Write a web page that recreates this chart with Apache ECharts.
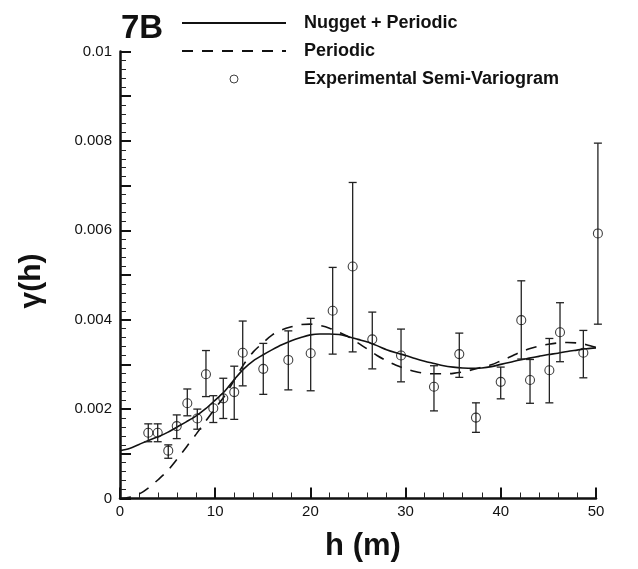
<!DOCTYPE html>
<html>
<head>
<meta charset="utf-8">
<title>Semi-variogram 7B</title>
<script src="https://cdn.jsdelivr.net/npm/echarts@6/dist/echarts.min.js"></script>
<style>
  html, body { margin: 0; padding: 0; background: #fff; }
  #chart { width: 638px; height: 569px; }
</style>
</head>
<body>
<div id="chart"></div>
<script>
// Lag distances h (m) of the experimental semi-variogram
const lags = [2.97, 3.96, 5.07, 5.96, 7.07, 8.12, 9.03, 9.8, 10.85, 12.0, 12.89, 15.05, 17.68, 20.03,
  22.34, 24.44, 26.5, 29.52, 32.98, 35.64, 37.39, 39.99, 42.15, 43.07, 45.1, 46.22, 48.67, 50.2];
// Experimental gamma(h)
const gammaExp = [0.00147, 0.00147, 0.00107, 0.00162, 0.00213, 0.00179, 0.00278, 0.00202, 0.00224, 0.00238,
  0.00326, 0.0029, 0.0031, 0.00325, 0.0042, 0.00519, 0.00356, 0.0032, 0.0025, 0.00323, 0.00181, 0.00261,
  0.00399, 0.00265, 0.00287, 0.00372, 0.00326, 0.00593];
// Error bar bounds
const gammaLow = [0.00127, 0.00127, 0.0009, 0.00134, 0.00185, 0.00155, 0.00228, 0.0017, 0.00179, 0.00177,
  0.00252, 0.00233, 0.00243, 0.00241, 0.00323, 0.00328, 0.0029, 0.00261, 0.00196, 0.00271, 0.00148, 0.00223,
  0.00312, 0.00213, 0.00214, 0.00306, 0.0027, 0.0039];
const gammaHigh = [0.00167, 0.00167, 0.0012, 0.00187, 0.00245, 0.002, 0.00331, 0.0023, 0.00269, 0.00296,
  0.00397, 0.00347, 0.00375, 0.00403, 0.00517, 0.00707, 0.00417, 0.00379, 0.00297, 0.0037, 0.00214, 0.00294,
  0.00487, 0.00311, 0.00358, 0.00438, 0.00376, 0.00795];

// Model curves sampled every metre
const modelH = [0, 1, 2, 3, 4, 5, 6, 7, 8, 9, 10, 11, 12, 13, 14, 15, 16, 17, 18, 19, 20, 21, 22, 23, 24, 25,
  26, 27, 28, 29, 30, 31, 32, 33, 34, 35, 36, 37, 38, 39, 40, 41, 42, 43, 44, 45, 46, 47, 48, 49, 50];
const nuggetPeriodic = [0.00107, 0.00112, 0.00121, 0.0013, 0.00138, 0.00148, 0.0016, 0.00172, 0.00185, 0.00201,
  0.0022, 0.0024, 0.00266, 0.0029, 0.00308, 0.00321, 0.00333, 0.00344, 0.00353, 0.0036, 0.00366, 0.00368,
  0.00368, 0.00367, 0.00362, 0.00356, 0.0035, 0.00342, 0.00333, 0.00326, 0.0032, 0.00313, 0.00307, 0.00302,
  0.00297, 0.00294, 0.00292, 0.00291, 0.00292, 0.00295, 0.003, 0.00305, 0.0031, 0.00314, 0.00318, 0.00322,
  0.00325, 0.00329, 0.00332, 0.00335, 0.00337];
const periodic = [0, 0.00003, 0.0001, 0.00024, 0.00042, 0.00062, 0.00088, 0.00116, 0.00144, 0.00173,
  0.00202, 0.0023, 0.00265, 0.003, 0.00328, 0.00348, 0.00366, 0.00377, 0.00384, 0.00389, 0.0039, 0.00387,
  0.00381, 0.00372, 0.00362, 0.00348, 0.00334, 0.0032, 0.00308, 0.00298, 0.0029, 0.00284, 0.0028, 0.00279,
  0.00279, 0.0028, 0.00283, 0.00288, 0.00294, 0.00299, 0.00308, 0.00317, 0.00327, 0.00335, 0.00341, 0.00345,
  0.00348, 0.00349, 0.00348, 0.00344, 0.00338];

const yTickLabels = ['0', '0.002', '0.004', '0.006', '0.008', '0.01'];

const FONT = '"Liberation Sans", Arial, Helvetica, sans-serif';
const INK = '#111';

const chart = echarts.init(document.getElementById('chart'), null, { renderer: 'canvas' });

const expData = lags.map((h, i) => [h, gammaExp[i]]);
const barData = lags.map((h, i) => [h, gammaLow[i], gammaHigh[i]]);

// legend key without the marker dot on the line samples
const hiddenMarker = { color: 'transparent', borderWidth: 0 };

chart.setOption({
  animation: false,
  backgroundColor: '#fff',
  grid: { left: 120, right: 42, top: 51.5, bottom: 70.5 },
  legend: {
    orient: 'vertical',
    left: 176,
    top: 9,
    itemWidth: 104,
    itemHeight: 8,
    itemGap: 10,
    selectedMode: false,
    textStyle: { fontFamily: FONT, fontSize: 18, fontWeight: 'bold', color: INK, lineHeight: 18, padding: [0, 0, 0, 13] },
    data: [
      { name: 'Nugget + Periodic', itemStyle: hiddenMarker },
      { name: 'Periodic', itemStyle: hiddenMarker },
      { name: 'Experimental Semi-Variogram', icon: 'circle', itemStyle: { color: 'transparent', borderColor: INK, borderWidth: 1 } }
    ]
  },
  xAxis: {
    type: 'value',
    min: 0,
    max: 50,
    interval: 10,
    axisLine: { lineStyle: { color: INK, width: 2.5 } },
    axisTick: { inside: true, length: 11, lineStyle: { color: INK, width: 2 } },
    minorTick: { show: true, splitNumber: 5, length: 6, lineStyle: { color: '#222', width: 1 } },
    splitLine: { show: false },
    minorSplitLine: { show: false },
    axisLabel: { color: INK, fontSize: 15, fontFamily: FONT, margin: 6 }
  },
  yAxis: {
    type: 'value',
    min: 0,
    max: 0.01,
    interval: 0.001,
    axisLine: { lineStyle: { color: INK, width: 2.5 } },
    axisTick: { inside: true, length: 11, lineStyle: { color: INK, width: 2 } },
    minorTick: { show: true, splitNumber: 5, length: 6, lineStyle: { color: '#222', width: 1 } },
    splitLine: { show: false },
    minorSplitLine: { show: false },
    axisLabel: {
      color: INK, fontSize: 15, fontFamily: FONT, margin: 8,
      formatter: (v) => {
        const k = Math.round(v * 1000);
        return k % 2 === 0 ? yTickLabels[k / 2] : '';
      }
    }
  },
  graphic: [
    { type: 'text', left: 121, top: 12, style: { text: '7B', font: 'bold 33px ' + FONT, fill: INK } },
    { type: 'text', x: 363, y: 546, style: { text: 'h (m)', font: 'bold 31px ' + FONT, fill: INK, align: 'center', verticalAlign: 'middle' } },
    { type: 'text', x: 32, y: 281, rotation: Math.PI / 2, style: { text: 'γ(h)', font: 'bold 30px ' + FONT, fill: INK, align: 'center', verticalAlign: 'middle' } }
  ],
  series: [
    {
      name: 'Nugget + Periodic',
      type: 'line',
      data: modelH.map((h, i) => [h, nuggetPeriodic[i]]),
      smooth: 0.3,
      symbol: 'none',
      lineStyle: { color: INK, width: 1.6, type: 'solid' },
      itemStyle: { color: INK },
      z: 3
    },
    {
      name: 'Periodic',
      type: 'line',
      data: modelH.map((h, i) => [h, periodic[i]]),
      smooth: 0.3,
      symbol: 'none',
      lineStyle: { color: INK, width: 1.6, type: [11, 9] },
      itemStyle: { color: INK },
      z: 3
    },
    {
      name: 'error bars',
      type: 'custom',
      data: barData,
      clip: false,
      renderItem: (params, api) => {
        const h = api.value(0);
        const lo = api.coord([h, api.value(1)]);
        const hi = api.coord([h, api.value(2)]);
        const cap = 4;
        const style = { stroke: '#222', lineWidth: 1.3, fill: null };
        return {
          type: 'group',
          children: [
            { type: 'line', shape: { x1: lo[0], y1: lo[1], x2: hi[0], y2: hi[1] }, style },
            { type: 'line', shape: { x1: lo[0] - cap, y1: lo[1], x2: lo[0] + cap, y2: lo[1] }, style },
            { type: 'line', shape: { x1: hi[0] - cap, y1: hi[1], x2: hi[0] + cap, y2: hi[1] }, style }
          ]
        };
      },
      z: 4
    },
    {
      name: 'Experimental Semi-Variogram',
      type: 'scatter',
      data: expData,
      clip: false,
      symbol: 'circle',
      symbolSize: 9,
      itemStyle: { color: 'transparent', borderColor: INK, borderWidth: 1.1 },
      z: 5
    }
  ]
});
</script>
</body>
</html>
